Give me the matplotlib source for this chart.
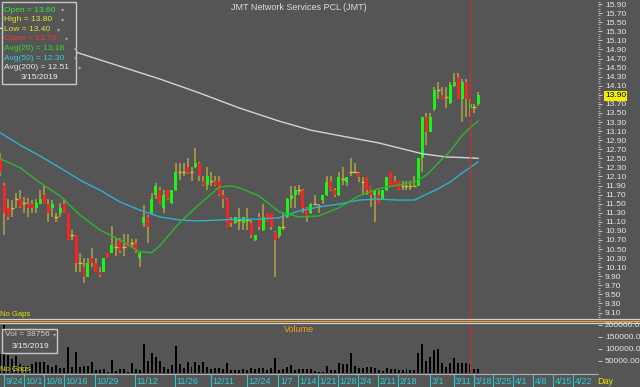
import matplotlib
matplotlib.use("Agg")
import matplotlib.pyplot as plt
import numpy as np
from matplotlib.lines import Line2D
from matplotlib.patches import Rectangle

plt.rcParams['font.family'] = ['Liberation Sans', 'DejaVu Sans']

#------------------------------------------------------------------------------
# Data (one bar per trading day, 9/21 .. 3/19)
#------------------------------------------------------------------------------

opens = [12.51, 11.91, 11.41, 11.41, 11.60, 11.60, 11.52, 11.49, 11.49, 11.41,
         11.49, 11.69, 11.49, 11.41, 11.21, 11.30, 11.49, 11.30, 10.81, 10.81,
         10.20, 10.11, 9.89, 10.31, 10.20, 10.00, 10.00, 10.41, 10.41, 10.55,
         10.72, 10.55, 10.64, 10.64, 10.64, 10.31, 11.08, 11.21, 11.30, 11.69,
         11.80, 11.41, 11.80, 11.52, 11.80, 12.20, 12.20, 12.31, 12.20, 12.31,
         12.40, 12.00, 11.91, 12.00, 12.00, 12.00, 11.69, 11.60, 11.17, 11.08,
         11.14, 11.08, 11.14, 11.08, 10.70, 11.21, 10.92, 11.30, 11.30, 10.88,
         10.79, 10.99, 11.21, 11.60, 11.69, 11.80, 11.80, 11.41, 11.30, 11.49,
         11.45, 11.58, 11.69, 12.00, 11.80, 11.69, 12.05, 11.98, 12.20, 12.20,
         12.18, 11.98, 12.09, 11.89, 11.69, 11.69, 11.60, 11.80, 12.20, 12.00,
         12.00, 11.89, 11.89, 11.89, 11.89, 11.89, 12.51, 13.41, 13.08, 13.59,
         14.01, 13.90, 13.85, 13.72, 14.09, 14.29, 13.81, 14.18, 13.60, 13.63,
         13.70]
highs = [12.62, 11.95, 11.60, 11.58, 11.73, 11.80, 11.65, 11.62, 11.58, 11.60,
         11.80, 11.91, 11.60, 11.58, 11.30, 11.52, 11.60, 11.30, 10.92, 10.81,
         10.41, 10.31, 10.31, 10.53, 10.31, 10.11, 10.31, 10.41, 11.01, 10.75,
         10.75, 10.83, 10.83, 10.72, 10.72, 10.45, 11.47, 11.25, 11.73, 11.96,
         11.87, 11.80, 11.80, 11.80, 12.40, 12.40, 12.40, 12.51, 12.31, 12.73,
         12.42, 12.11, 12.31, 12.20, 12.11, 12.11, 11.80, 11.62, 11.21, 11.21,
         11.41, 11.21, 11.41, 11.14, 10.81, 11.30, 11.49, 11.30, 11.30, 10.90,
         11.00, 11.30, 11.62, 11.89, 11.89, 11.91, 11.82, 11.43, 11.52, 11.69,
         11.49, 11.60, 12.11, 12.11, 11.85, 12.20, 12.31, 12.00, 12.51, 12.40,
         12.20, 12.09, 12.09, 11.89, 11.69, 11.80, 11.80, 12.09, 12.20, 12.11,
         12.00, 12.00, 12.00, 12.00, 12.11, 12.51, 13.41, 13.49, 13.49, 14.07,
         14.18, 14.07, 14.07, 14.18, 14.38, 14.38, 14.25, 14.25, 13.80, 13.70,
         13.96]
lows = [12.11, 10.81, 11.14, 11.21, 11.40, 11.41, 11.30, 11.21, 11.30, 11.30,
        11.49, 11.49, 11.10, 11.21, 11.10, 11.21, 11.30, 10.70, 10.70, 10.00,
        10.00, 9.75, 9.89, 10.11, 10.00, 9.89, 10.00, 10.31, 10.41, 10.35,
        10.41, 10.35, 10.55, 10.53, 10.41, 10.11, 10.99, 10.63, 11.28, 11.60,
        11.50, 11.30, 11.58, 11.50, 11.78, 12.02, 12.11, 12.15, 12.00, 12.29,
        12.00, 11.89, 11.80, 11.89, 11.89, 11.67, 11.41, 10.99, 10.99, 11.05,
        10.92, 10.92, 10.92, 10.75, 10.68, 10.92, 10.90, 11.10, 10.92, 9.89,
        10.75, 10.92, 11.19, 11.41, 11.41, 11.69, 11.30, 11.10, 11.28, 11.47,
        11.30, 11.49, 11.67, 11.78, 11.65, 11.67, 11.91, 11.89, 12.11, 12.18,
        11.98, 11.69, 11.69, 11.43, 11.10, 11.49, 11.58, 11.78, 11.89, 11.89,
        11.80, 11.80, 11.80, 11.80, 11.89, 11.89, 12.20, 12.80, 13.08, 13.55,
        13.80, 13.80, 13.60, 13.70, 14.07, 13.80, 13.30, 13.41, 13.40, 13.49,
        13.66]
closes = [12.20, 11.30, 11.21, 11.41, 11.60, 11.43, 11.52, 11.41, 11.41, 11.52,
          11.60, 11.49, 11.30, 11.49, 11.21, 11.41, 11.30, 10.70, 10.81, 10.20,
          10.20, 9.89, 10.20, 10.20, 10.00, 9.93, 10.31, 10.31, 10.59, 10.55,
          10.45, 10.55, 10.55, 10.64, 10.45, 10.41, 11.21, 10.99, 11.60, 11.89,
          11.52, 11.69, 11.60, 11.80, 12.20, 12.20, 12.20, 12.18, 12.20, 12.40,
          12.11, 11.91, 12.11, 12.00, 11.91, 11.69, 11.60, 10.99, 11.08, 11.21,
          11.14, 11.21, 11.14, 10.81, 10.81, 10.99, 11.21, 11.10, 10.99, 10.70,
          10.99, 10.99, 11.60, 11.69, 11.80, 11.80, 11.41, 11.21, 11.49, 11.49,
          11.45, 11.69, 11.98, 11.80, 11.69, 12.09, 12.05, 12.09, 12.20, 12.20,
          12.09, 11.98, 11.80, 11.69, 11.80, 11.49, 11.80, 12.09, 11.89, 11.89,
          11.80, 11.89, 11.89, 11.89, 11.89, 12.51, 13.41, 13.08, 13.41, 14.01,
          14.01, 13.80, 13.85, 14.12, 14.18, 13.81, 14.18, 13.81, 13.70, 13.63,
          13.90]
volumes = [80000, 200000, 75000, 57000, 71000, 37500, 29000, 29000, 37500, 44000,
           47000, 47000, 33000, 26000, 33000, 19000, 22000, 110000, 26000, 86000,
           26000, 29000, 29000, 47000, 12500, 12500, 17000, 5600, 54000, 10000,
           17000, 17000, 5600, 40000, 17000, 12500, 121000, 50000, 82000, 68000,
           51000, 26000, 15000, 33000, 112000, 37500, 19000, 47000, 26000, 44000,
           33000, 44000, 26000, 15000, 19000, 19000, 15000, 43000, 12500, 12500,
           12500, 17000, 12500, 22000, 17000, 22000, 22000, 12500, 19000, 61000,
           12500, 15000, 26000, 33000, 12500, 15000, 15000, 15000, 15000, 10000,
           5600, 5600, 31000, 12500, 12500, 43000, 36000, 36000, 85000, 31000,
           19000, 22000, 26000, 26000, 22000, 12500, 8000, 22000, 17000, 17000,
           14000, 12500, 15000, 12500, 12500, 82000, 121000, 50000, 65000, 96000,
           99000, 40000, 24000, 43000, 61000, 40000, 40000, 40000, 38756, 15000,
           15000]

# moving averages sampled along the bars (bar index, value)
ma20_idx = [0, 5, 10, 15, 20, 25, 30, 35, 38, 40, 45, 50, 55, 58, 60, 65, 70, 75,
            80, 85, 90, 95, 100, 104, 107, 110, 113, 116, 118, 120]
ma20 = [12.49, 12.29, 11.96, 11.67, 11.25, 10.92, 10.70, 10.44, 10.42, 10.57,
        11.08, 11.49, 11.87, 11.89, 11.85, 11.67, 11.32, 11.21, 11.23, 11.41,
        11.67, 11.83, 11.91, 11.98, 12.13, 12.40, 12.66, 13.01, 13.18, 13.32]
ma50_idx = [0, 5, 10, 15, 20, 25, 30, 35, 40, 45, 50, 55, 60, 65, 70, 75, 80, 85,
            90, 95, 100, 104, 107, 110, 113, 116, 118, 120]
ma50 = [13.06, 12.79, 12.55, 12.29, 12.02, 11.80, 11.54, 11.36, 11.21, 11.14,
        11.12, 11.14, 11.16, 11.16, 11.19, 11.34, 11.43, 11.49, 11.58, 11.60,
        11.58, 11.58, 11.71, 11.83, 11.98, 12.18, 12.30, 12.42]
ma200_idx = [0, 10, 19, 30, 40, 50, 60, 70, 78, 87, 95, 100, 106, 112, 118, 120]
ma200 = [15.37, 15.09, 14.84, 14.53, 14.25, 13.94, 13.61, 13.32, 13.12, 12.97,
         12.84, 12.73, 12.60, 12.53, 12.51, 12.50]

# date axis: label and trading-day index
date_labels = ["9/24", "10/1", "10/8", "10/16", "10/29", "11/12", "11/26", "12/11",
               "12/24", "1/7", "1/14", "1/21", "1/28", "2/4", "2/11", "2/18", "3/1",
               "3/11", "3/18", "3/25", "4/1", "4/8", "4/15", "4/22"]
date_index = [1, 6, 11, 16, 24, 34, 44, 53, 62, 70, 75, 80, 85, 90, 95, 100, 108,
              114, 119, 124, 129, 134, 139, 144]

price_ticks = np.round(np.arange(9.10, 15.91, 0.2), 2)
vol_ticks = [50000, 100000, 150000, 200000]
sel = 118  # 3/15/2019

#------------------------------------------------------------------------------
# Plot
#------------------------------------------------------------------------------

W, H = 640, 387
BG = "#555555"
UP, DOWN, WICK = "#19f519", "#f52525", "#b4a444"
TXT = "#e6e6e6"

fig = plt.figure(figsize=(W / 100, H / 100), dpi=100, facecolor=BG)

def box(x0, y0, x1, y1):
    # pixel box (top-left origin) -> figure fraction rect
    return [x0 / W, 1 - y1 / H, (x1 - x0) / W, (y1 - y0) / H]

def ftext(x, y, s, **kw):
    fig.text(x / W, 1 - y / H, s, **kw)

xlo, xhi = -0.1, 150.1
idx = np.arange(len(closes))
o, h, l, c = map(np.array, (opens, highs, lows, closes))

# --- price panel -----------------------------------------------------------
ax = fig.add_axes(box(0, 0, 598, 318), facecolor=BG)
ax.set_xlim(xlo, xhi)
ax.set_ylim(8.98, 15.99)

ax.vlines(idx, l, h, color=WICK, lw=1.1, zorder=2)
up = c > o
dn = c < o
dj = c == o
ax.bar(idx[up], (c - o)[up], bottom=o[up], width=0.75, color=UP, zorder=3)
ax.bar(idx[dn], (o - c)[dn], bottom=c[dn], width=0.75, color=DOWN, zorder=3)
ax.hlines(o[dj], idx[dj] - 0.45, idx[dj] + 0.45, color="#d8c040", lw=1.0, zorder=3)

ax.plot(ma200_idx, ma200, color="#d4d4d4", lw=1.0, zorder=4)
ax.plot(ma50_idx, ma50, color="#2ab4cc", lw=1.0, zorder=4)
ax.plot(ma20_idx, ma20, color="#2cb82c", lw=1.0, zorder=4)
ax.axvline(sel, color="#d03030", lw=0.8, zorder=5)

ax.yaxis.tick_right()
ax.set_yticks(price_ticks)
ax.set_yticklabels(["%.2f" % v for v in price_ticks])
ax.set_yticks(np.arange(9.0, 16.0, 0.05), minor=True)
ax.tick_params(axis="y", which="major", colors="#d8d8d8", labelcolor=TXT,
               labelsize=6, length=3, width=0.6, pad=2)
ax.tick_params(axis="y", which="minor", colors="#d8d8d8", length=1.5, width=0.5)
ax.set_xticks([])
for s in ax.spines.values():
    s.set_visible(False)

# last price: highlight its tick label
for v, lab in zip(price_ticks, ax.get_yticklabels()):
    if abs(v - c[-1]) < 1e-6:
        lab.set_color("black")
        lab.set_bbox(dict(boxstyle="square,pad=0.15", fc="#f0f000", ec="none"))

ax.text(0.5, 0.99, "JMT Network Services PCL (JMT)", transform=ax.transAxes,
        ha="center", va="top", fontsize=6.5, color="#dcdcdc")
ax.text(0.0, 0.0, "No Gaps", transform=ax.transAxes, ha="left", va="bottom",
        fontsize=5.5, color="#e6e600")

# info box
ax.add_patch(Rectangle((2 / 598, 1 - 84 / 318), 74 / 598, 82 / 318,
                       transform=ax.transAxes, fc=BG, ec="#c8c8c8", lw=1.0, zorder=10))
info = [("Open = %.2f" % o[sel], "#33ee33"),
        ("High = %.2f" % h[sel], "#e6e62a"),
        ("Low = %.2f" % l[sel], "#e6e62a"),
        ("Close = %.2f" % c[sel], "#ff3434"),
        ("Avg(20) = %.2f" % ma20[ma20_idx.index(sel)], "#33dd33"),
        ("Avg(50) = %.2f" % ma50[ma50_idx.index(sel)], "#33cce0"),
        ("Avg(200) = %.2f" % ma200[ma200_idx.index(sel)], "#e6e6e6")]
for k, (s, col) in enumerate(info):
    ftext(4, 10 + 9.6 * k, s + " ", fontsize=6, color=col, va="center", zorder=11)
    ftext(4 + len(s) * 4.25 + 6, 10 + 9.6 * k, "\u25be", fontsize=4.5,
          color="#a8a8a8", va="center", zorder=11)
ftext(39, 77.5, "3/15/2019", fontsize=6, color="#f0f0f0", va="center", ha="center",
      zorder=11)

# --- panel separators -------------------------------------------------------
for y, col in [(318.8, "#d0d0d0"), (320.8, "#f0a020"), (322.8, "#d0d0d0")]:
    fig.add_artist(Line2D([0, 1], [1 - y / H] * 2, color=col, lw=0.9))

# --- volume panel ----------------------------------------------------------
av = fig.add_axes(box(0, 324, 598, 373), facecolor=BG)
av.set_xlim(xlo, xhi)
av.set_ylim(0, 204000)
av.bar(idx, volumes, width=0.5, color="black", zorder=3)
av.axvline(sel, color="#d03030", lw=0.8, zorder=5)
av.yaxis.tick_right()
av.set_yticks(vol_ticks)
av.set_yticklabels(["%.2f" % v for v in vol_ticks])
av.tick_params(axis="y", colors="#d8d8d8", labelcolor=TXT, labelsize=6,
               length=3, width=0.6, pad=2)
av.set_xticks([])
for s in av.spines.values():
    s.set_visible(False)
av.text(0.5, 0.97, "Volume", transform=av.transAxes, ha="center", va="top",
        fontsize=6.5, color="#f0a020")
av.text(0.0, 0.0, "No Gaps", transform=av.transAxes, ha="left", va="bottom",
        fontsize=5.5, color="#e6e600")
av.add_patch(Rectangle((2 / 598, 1 - 29 / 49), 55 / 598, 24 / 49,
                       transform=av.transAxes, fc=BG, ec="#c8c8c8", lw=1.0, zorder=10))
ftext(5, 335, "Vol = %d" % volumes[sel], fontsize=6, color="#d0d0d0", va="center",
      zorder=11)
ftext(53, 335, "\u25be", fontsize=4.5, color="#a8a8a8", va="center", zorder=11)
ftext(30, 346, "3/15/2019", fontsize=6, color="#f0f0f0", va="center", ha="center",
      zorder=11)
fig.add_artist(Line2D([0, 598 / W], [1 - 374 / H] * 2, color="#b0b0b0", lw=0.8))

# --- date axis --------------------------------------------------------------
ad = fig.add_axes(box(0, 375, 598, 387), facecolor=BG)
ad.set_xlim(xlo, xhi)
ad.set_ylim(0, 1)
ad.axis("off")
for d, s in zip(date_index, date_labels):
    ad.axvline(d - 0.15, color="#28c8d0", lw=0.8)
    ad.text(d + 0.2, 0.45, s, color="#28d0d8", fontsize=6.5, va="center", ha="left")
ftext(597, 381, "Day", fontsize=6.5, color="#e6e600", va="center", ha="left")

fig.savefig("out.png", dpi=100, facecolor=BG)
